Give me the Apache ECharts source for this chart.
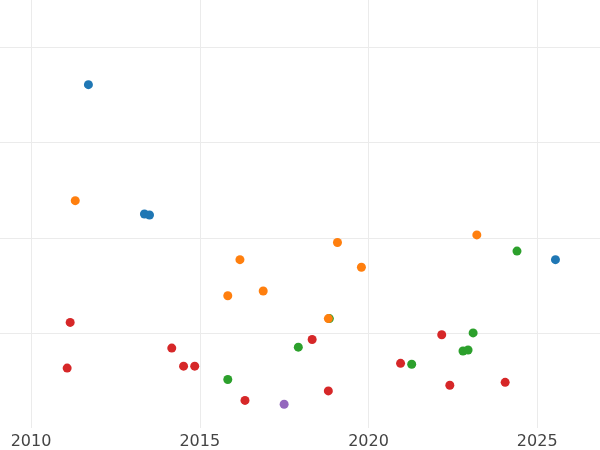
<!DOCTYPE html>
<html><head><meta charset="utf-8">
<script src="https://cdn.jsdelivr.net/npm/echarts@6/dist/echarts.min.js"></script>
<style>html,body{margin:0;padding:0}#c{width:600px;height:450px}</style>
</head><body><div id="c"></div>
<script>
const xTicks = [2010, 2015, 2020, 2025];
const yTicks = [1, 2, 3, 4];
const blueX = [2011.70, 2013.36, 2013.51, 2025.54];
const blueY = [3.61, 2.25, 2.24, 1.77];
const orangeX = [2011.31, 2016.19, 2015.83, 2016.88, 2019.08, 2019.79, 2018.81, 2023.21];
const orangeY = [2.39, 1.77, 1.39, 1.44, 1.95, 1.69, 1.15, 2.03];
const greenX = [2024.40, 2023.10, 2022.80, 2022.95, 2021.28, 2017.92, 2015.83, 2018.84];
const greenY = [1.86, 1.00, 0.81, 0.82, 0.67, 0.85, 0.51, 1.15];
const redX = [2011.16, 2011.07, 2014.17, 2014.52, 2014.85, 2016.34, 2018.33, 2018.81, 2020.95, 2022.17, 2022.41, 2024.05];
const redY = [1.11, 0.63, 0.84, 0.65, 0.65, 0.29, 0.93, 0.39, 0.68, 0.98, 0.45, 0.48];
const purpleX = [2017.50];
const purpleY = [0.25];
const zip = (a, b) => a.map((v, i) => [v, b[i]]);
const mk = (x, y, c) => ({type: 'scatter', data: zip(x, y), symbolSize: 9, itemStyle: {color: c, opacity: 1}});
const chart = echarts.init(document.getElementById('c'));
chart.setOption({
  animation: false,
  grid: {left: 0, right: 0, top: 0, bottom: 21, containLabel: false},
  xAxis: {type: 'value', min: 2009.08, max: 2026.86,
    axisLine: {show: false},
    axisTick: {show: false, customValues: xTicks},
    axisLabel: {color: '#444', fontSize: 16, margin: 6, fontFamily: 'DejaVu Sans', customValues: xTicks,
      formatter: v => String(v)},
    splitLine: {show: true, lineStyle: {color: '#ebebeb', width: 1}}},
  yAxis: {type: 'value', min: 0, max: 4.5,
    axisLine: {show: false},
    axisTick: {show: false, customValues: yTicks},
    axisLabel: {show: false, customValues: yTicks},
    splitLine: {show: true, lineStyle: {color: '#ebebeb', width: 1}}},
  series: [mk(blueX, blueY, '#1f77b4'), mk(greenX, greenY, '#2ca02c'),
    mk(orangeX, orangeY, '#ff7f0e'), mk(redX, redY, '#d62728'), mk(purpleX, purpleY, '#9467bd')]
});
</script></body></html>
